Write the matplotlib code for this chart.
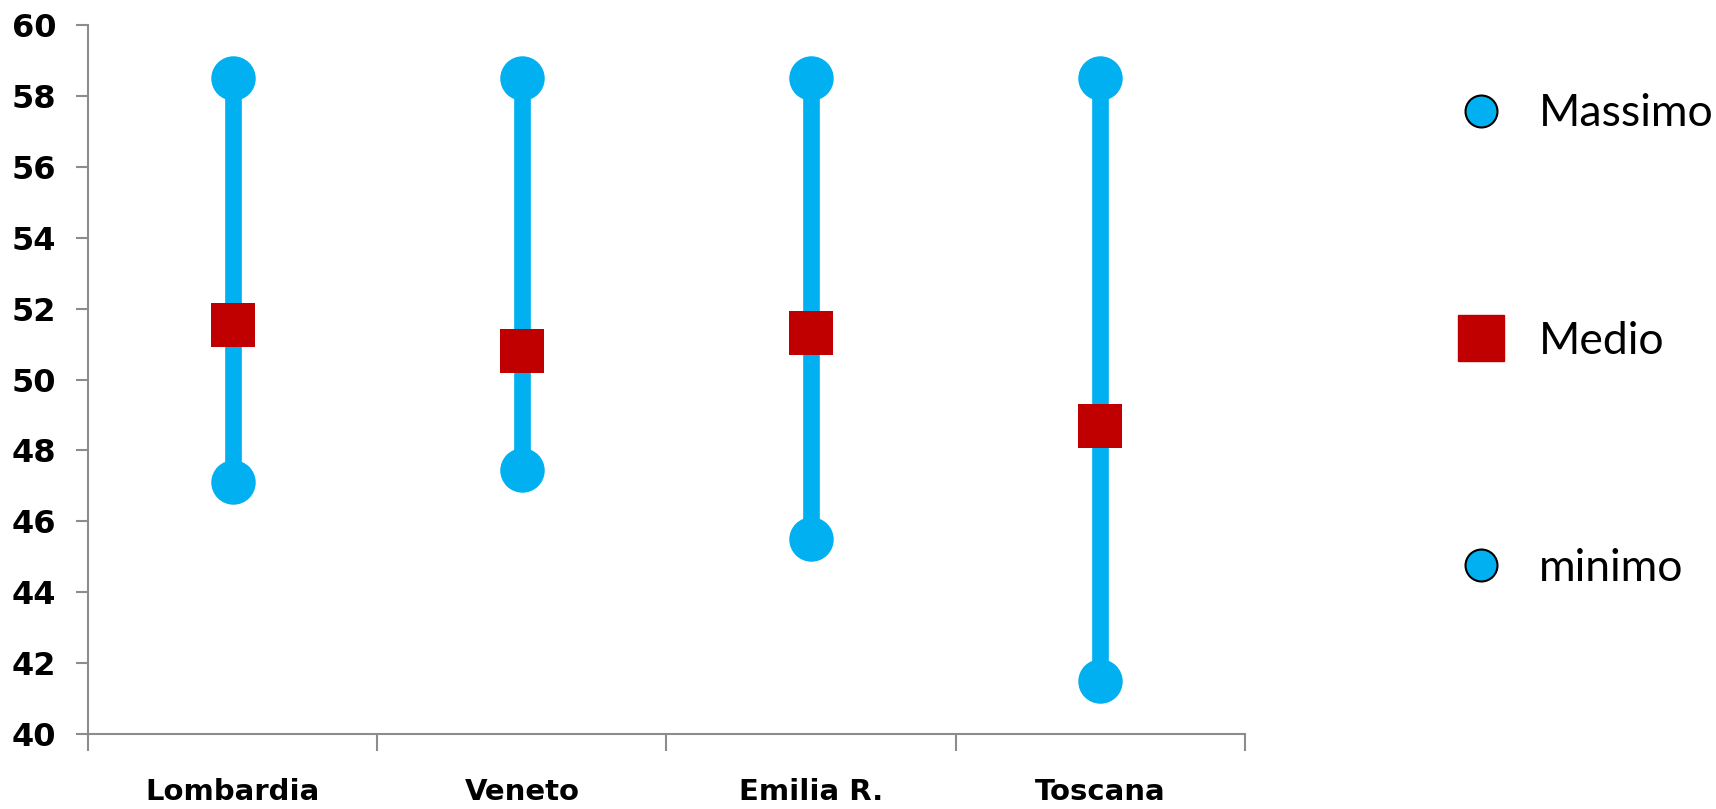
import matplotlib
matplotlib.use("Agg")
import matplotlib.pyplot as plt
from matplotlib.lines import Line2D

regioni = ["Lombardia", "Veneto", "Emilia R.", "Toscana"]
massimo = [58.5, 58.5, 58.5, 58.5]
medio = [51.55, 50.8, 51.3, 48.7]
minimo = [47.1, 47.45, 45.5, 41.5]

blu = "#00B0F0"
rosso = "#C00000"
grigio = "#8C8C8C"
tick_font = ["DejaVu Sans"]

fig = plt.figure(figsize=(17.16, 8.09), dpi=100)
ax = fig.add_axes([0.0513, 0.0927, 0.6742, 0.8763])

x = list(range(len(regioni)))
ax.vlines(x, minimo, massimo, color=blu, lw=12, zorder=1)
ax.scatter(x, massimo, s=32**2, color=blu, marker="o", zorder=2, linewidths=0)
ax.scatter(x, minimo, s=32**2, color=blu, marker="o", zorder=2, linewidths=0)
ax.scatter(x, medio, s=31**2, color=rosso, marker="s", zorder=3, linewidths=0)

ax.set_xlim(-0.5, len(regioni) - 0.5)
ax.set_ylim(40, 60)
ax.set_yticks(range(40, 61, 2))
ax.set_xticks([i - 0.5 for i in range(len(regioni) + 1)])
ax.set_xticklabels([])
ax.set_xticks(x, minor=True)
ax.set_xticklabels(regioni, minor=True, fontsize=21, fontweight="bold", family=tick_font)
for lab in ax.get_yticklabels():
    lab.set_fontsize(23)
    lab.set_fontweight("bold")
    lab.set_family(tick_font)

for s in ["top", "right"]:
    ax.spines[s].set_visible(False)
for s in ["left", "bottom"]:
    ax.spines[s].set_color(grigio)
    ax.spines[s].set_linewidth(1.5)
ax.tick_params(axis="y", length=9, width=1.5, color=grigio, pad=14)
ax.tick_params(axis="x", which="major", length=12, width=1.5, color=grigio)
ax.tick_params(axis="x", which="minor", length=0, pad=32)

handles = [
    Line2D([], [], ls="none", marker="o", ms=23, mfc=blu, mec="black", mew=1.5),
    Line2D([], [], ls="none", marker="s", ms=33, mfc=rosso, mec=rosso),
    Line2D([], [], ls="none", marker="o", ms=23, mfc=blu, mec="black", mew=1.5),
]
fig.legend(handles, ["Massimo", "Medio", "minimo"], loc="upper left",
           bbox_to_anchor=(0.814, 0.934), frameon=False, labelspacing=4.19,
           handletextpad=0.3, prop={"family": ["Lato", "DejaVu Sans"], "size": 32})

fig.savefig("out.png", dpi=100)
